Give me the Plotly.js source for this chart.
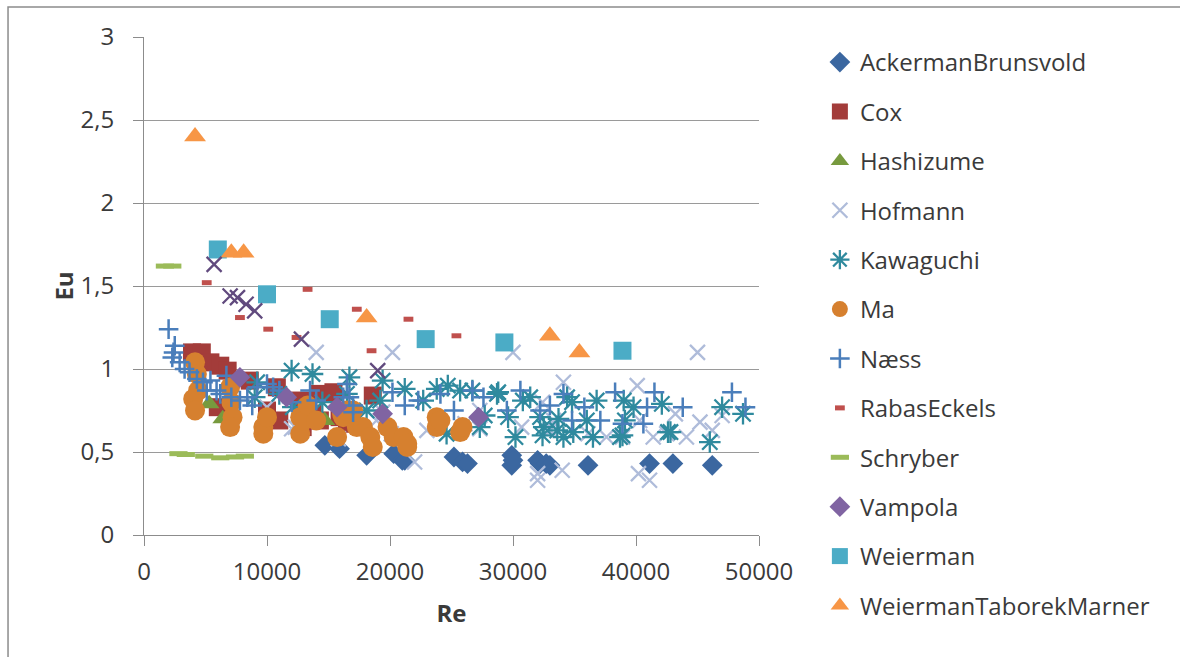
<!DOCTYPE html>
<html>
<head>
<meta charset="utf-8">
<script src="https://cdn.plot.ly/plotly-3.0.1.min.js"></script>
<style>
  html, body { margin: 0; padding: 0; background: #fff; }
  #chart { width: 1180px; height: 657px; }
</style>
</head>
<body>
<div id="chart"></div>
<script>
// Euler number vs Reynolds number, tube bank pressure-drop data by source

const ackermanRe = [14700, 15900, 18100, 20300, 21000, 21200, 25200, 25900, 26300, 29900, 29900, 30000, 32000, 32200, 32700, 33000, 36100, 41100, 43000, 46200];
const ackermanEu = [0.54, 0.52, 0.48, 0.49, 0.45, 0.45, 0.47, 0.44, 0.43, 0.48, 0.42, 0.45, 0.45, 0.43, 0.43, 0.42, 0.42, 0.43, 0.43, 0.42];

const coxRe = [3900, 4700, 5400, 6200, 6800, 6000, 8600, 10800, 10000, 11000, 12700, 12900, 13700, 14300, 14300, 15400, 15900, 16500, 18600];
const coxEu = [1.10, 1.10, 1.04, 1.02, 0.99, 0.77, 0.93, 0.89, 0.75, 0.69, 0.81, 0.65, 0.73, 0.85, 0.69, 0.86, 0.71, 0.67, 0.84];

const hashizumeRe = [5300, 6400, 14700];
const hashizumeEu = [0.79, 0.70, 0.69];

const hofmannRe = [14000, 20200, 30000, 45000, 10000, 12000, 12300, 15800, 18900, 19400, 20100, 22000, 23000, 26100, 27300, 27300, 30700, 32400, 32000, 32000, 33000, 33300, 34000, 34100, 34900, 36100, 37600, 38900, 40100, 40200, 40300, 41100, 41400, 42500, 43200, 44100, 45200, 46200, 47000];
const hofmannEu = [1.10, 1.10, 1.10, 1.10, 0.77, 0.64, 0.65, 0.58, 0.69, 0.74, 0.61, 0.44, 0.63, 0.67, 0.75, 0.64, 0.65, 0.80, 0.33, 0.37, 0.63, 0.69, 0.39, 0.92, 0.62, 0.61, 0.59, 0.59, 0.90, 0.37, 0.69, 0.33, 0.59, 0.61, 0.73, 0.59, 0.68, 0.63, 0.72];

const kawaguchiRe = [12000, 13700, 16700, 9200, 9000, 12100, 16500, 19400, 21200, 23800, 25700, 28700, 19200, 18100, 27300, 22700, 30800, 32200, 34400, 36800, 39000, 39800, 42100, 47000, 48700, 42600, 46000, 38700, 36500, 34900, 33600, 32500, 34100, 36000, 24700, 26700, 28800, 31400, 34800, 27700, 29600, 30200, 32400, 33700, 24600, 39100, 42800, 38900, 14500, 11000];
const kawaguchiEu = [0.99, 0.97, 0.95, 0.92, 0.83, 0.77, 0.85, 0.93, 0.88, 0.88, 0.87, 0.85, 0.81, 0.75, 0.65, 0.81, 0.81, 0.71, 0.83, 0.81, 0.81, 0.77, 0.79, 0.77, 0.73, 0.62, 0.56, 0.59, 0.59, 0.62, 0.63, 0.65, 0.59, 0.69, 0.90, 0.87, 0.86, 0.83, 0.80, 0.72, 0.71, 0.59, 0.60, 0.70, 0.61, 0.69, 0.62, 0.60, 0.80, 0.85];

const maRe = [4150, 4300, 4400, 4000, 4150, 7000, 7100, 7200, 7000, 9700, 9700, 10000, 12700, 12700, 13000, 13300, 14000, 15700, 16100, 16200, 17000, 17300, 17800, 18400, 18600, 19800, 20300, 21100, 21400, 21400, 23800, 23800, 24100, 25700, 25900, 16500];
const maEu = [1.04, 0.97, 0.87, 0.82, 0.75, 0.89, 0.80, 0.71, 0.65, 0.65, 0.61, 0.71, 0.71, 0.61, 0.69, 0.78, 0.69, 0.59, 0.73, 0.71, 0.75, 0.65, 0.65, 0.59, 0.53, 0.65, 0.59, 0.59, 0.53, 0.55, 0.71, 0.65, 0.69, 0.62, 0.65, 0.75];

const naessRe = [2000, 2500, 2400, 2300, 2900, 3300, 3700, 4300, 4800, 5100, 5400, 5900, 6200, 6700, 7100, 7800, 8400, 9200, 10000, 10500, 11000, 13500, 14000, 16200, 17000, 16500, 16700, 17000, 20200, 21200, 22300, 24100, 25200, 26700, 27600, 29500, 30600, 32200, 33000, 34100, 34800, 35800, 37100, 38300, 38900, 40600, 40900, 41500, 43800, 47800, 48900, 12000, 8800];
const naessEu = [1.24, 1.14, 1.10, 1.07, 1.04, 1.00, 0.98, 0.94, 0.92, 0.87, 0.93, 0.87, 0.85, 0.96, 0.83, 0.81, 0.83, 0.89, 0.91, 0.89, 0.87, 0.87, 0.81, 0.83, 0.78, 0.91, 0.83, 0.74, 0.86, 0.78, 0.81, 0.85, 0.75, 0.87, 0.83, 0.75, 0.87, 0.75, 0.78, 0.85, 0.69, 0.77, 0.69, 0.86, 0.67, 0.67, 0.77, 0.86, 0.77, 0.86, 0.77, 0.80, 0.78];

const rabasRe = [5100, 7800, 10100, 12400, 13300, 17300, 18500, 21500, 25400];
const rabasEu = [1.52, 1.31, 1.24, 1.19, 1.48, 1.36, 1.11, 1.30, 1.20];

const schryberRe = [1700, 2300, 2800, 3400, 4900, 6200, 7400, 8200];
const schryberEu = [1.62, 1.62, 0.49, 0.485, 0.475, 0.465, 0.47, 0.475];

const vampolaRe = [7800, 11600, 15700, 19400, 27200];
const vampolaEu = [0.95, 0.83, 0.77, 0.73, 0.71];

const weiermanRe = [6000, 10000, 15100, 22900, 29300, 38900];
const weiermanEu = [1.72, 1.45, 1.30, 1.18, 1.16, 1.11];

const wtmRe = [4150, 7100, 8100, 18100, 33000, 35400];
const wtmEu = [2.40, 1.70, 1.70, 1.31, 1.20, 1.10];

// second Hofmann-style series, drawn without a legend entry
const hofmannDarkRe = [5700, 7000, 7600, 8300, 9000, 12800, 19000];
const hofmannDarkEu = [1.63, 1.44, 1.43, 1.39, 1.35, 1.18, 0.99];

const xTickVals = [0, 10000, 20000, 30000, 40000, 50000];
const xTickText = ['0', '10000', '20000', '30000', '40000', '50000'];
const yTickVals = [0, 0.5, 1, 1.5, 2, 2.5, 3];
const yTickText = ['0', '0,5', '1', '1,5', '2', '2,5', '3'];

function series(name, xs, ys, marker, extra) {
  return Object.assign({
    type: 'scatter', mode: 'markers', name: name, x: xs, y: ys,
    marker: marker, legendgroup: name, cliponaxis: false
  }, extra || {});
}

// open symbols are stroked with marker.color
function openMarker(symbol, size, width, color) {
  return {symbol: symbol, size: size, color: color, line: {width: width, color: color}};
}

const traces = [
  series('AckermanBrunsvold', ackermanRe, ackermanEu, {symbol: 'diamond', size: 16, color: '#3B67A0'}),
  series('Cox', coxRe, coxEu, {symbol: 'square', size: 18, color: '#A33C3A'}),
  series('Hashizume', hashizumeRe, hashizumeEu, {symbol: 'triangle-up', size: 18, color: '#779A3E'}),
  series('Hofmann', hofmannRe, hofmannEu, openMarker('x-thin-open', 15, 2.3, '#AFBCDA')),
  series('Kawaguchi', kawaguchiRe, kawaguchiEu, openMarker('asterisk-open', 18, 2.3, '#2F8A9E')),
  series('Ma', maRe, maEu, {symbol: 'circle', size: 20, color: '#D6802F'}),
  series('Næss', naessRe, naessEu, openMarker('cross-thin-open', 14, 2.5, '#4A7EBB')),
  series('RabasEckels', rabasRe, rabasEu, openMarker('line-ew-open', 7, 5, '#C0504D')),
  series('Schryber', schryberRe, schryberEu, openMarker('line-ew-open', 13, 5, '#9BBB59')),
  series('Vampola', vampolaRe, vampolaEu, {symbol: 'diamond', size: 16, color: '#8064A2'}),
  series('Weierman', weiermanRe, weiermanEu, {symbol: 'square', size: 18, color: '#4BACC6'}),
  series('WeiermanTaborekMarner', wtmRe, wtmEu, {symbol: 'triangle-up', size: 19, color: '#F79646'}),
  series('hofmannDark', hofmannDarkRe, hofmannDarkEu, openMarker('x-thin-open', 15, 2.3, '#614A7E'), {showlegend: false})
];

const font = {family: 'Open Sans, sans-serif', size: 24, color: '#3a3a3a'};

const layout = {
  width: 1180, height: 657,
  margin: {l: 144, r: 421, t: 37, b: 122, pad: 0},
  paper_bgcolor: '#ffffff', plot_bgcolor: '#ffffff',
  font: font,
  showlegend: true,
  legend: {
    x: 1.099, xanchor: 'left', y: 0.994, yanchor: 'top',
    traceorder: 'grouped', tracegroupgap: 15.2, maxheight: 640,
    font: {family: 'Open Sans, sans-serif', size: 24, color: '#3a3a3a'},
    bgcolor: 'rgba(0,0,0,0)', itemwidth: 30
  },
  xaxis: {
    range: [0, 50000], tickvals: xTickVals, ticktext: xTickText,
    showgrid: false, zeroline: false,
    showline: true, linecolor: '#8c8c8c', linewidth: 1,
    ticks: 'outside', ticklen: 10, tickcolor: '#8c8c8c', ticklabelstandoff: 5,
    tickfont: {family: 'Open Sans, sans-serif', size: 24, color: '#3a3a3a'},
    title: {text: '<b>Re</b>', font: {family: 'Open Sans, sans-serif', size: 24, color: '#3a3a3a'}, standoff: 19},
    automargin: false
  },
  yaxis: {
    range: [0, 3], tickvals: yTickVals, ticktext: yTickText,
    showgrid: true, gridcolor: '#9a9a9a', gridwidth: 1, zeroline: false,
    showline: true, linecolor: '#8c8c8c', linewidth: 1,
    ticks: 'outside', ticklen: 10, tickcolor: '#8c8c8c', ticklabelstandoff: 14,
    tickfont: {family: 'Open Sans, sans-serif', size: 24, color: '#3a3a3a'},
    title: {text: '<b>Eu</b>', font: {family: 'Open Sans, sans-serif', size: 24, color: '#3a3a3a'}, standoff: 0},
    automargin: false
  },
  shapes: [{
    type: 'rect', xref: 'paper', yref: 'paper',
    x0: -0.2211, x1: 1.9, y0: -0.5, y1: 1.0602,
    line: {color: '#8c8c8c', width: 1.5}, fillcolor: 'rgba(0,0,0,0)', layer: 'below'
  }]
};

Plotly.newPlot('chart', traces, layout, {displayModeBar: false, staticPlot: true});
</script>
</body>
</html>
